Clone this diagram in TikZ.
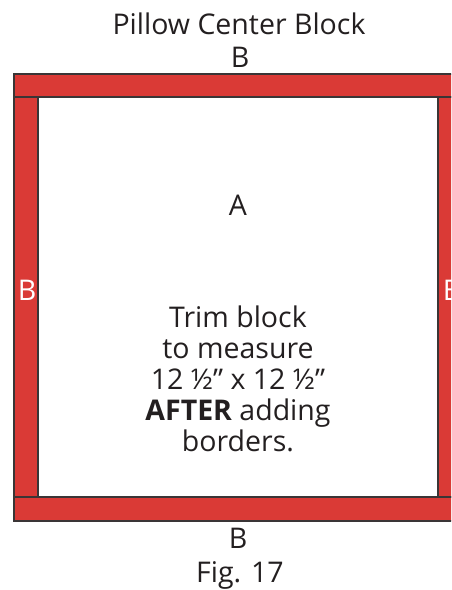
\documentclass[tikz,border=0pt]{standalone}
\usepackage{fontspec}
\setmainfont{Open Sans}
\usetikzlibrary{positioning}
\definecolor{ink}{HTML}{231F20}
\definecolor{edge}{HTML}{3A3536}
\definecolor{strip}{HTML}{DA3A36}
\tikzset{
  border/.style={fill=strip,draw=edge,line width=1.4pt},
  lbl/.style={font=\fontsize{28.5}{31}\selectfont,text=ink,inner sep=0pt},
  wlbl/.style={lbl,text=white}
}
\begin{document}
\begin{tikzpicture}[x=1pt,y=-1pt]
  \useasboundingbox (0,0) rectangle (451,590);
  \clip (0,0) rectangle (451,590);
  % borders around the centre block
  \draw[border] (14,74) rectangle (462,97);
  \draw[border] (14,497) rectangle (462,521);
  \draw[border] (14,97) rectangle (38,497);
  \draw[border] (438,97) rectangle (462,497);
  % labels
  \node[lbl] (title) at (239,24) {Pillow Center Block};
  \node[lbl] (btop) at (240,57) {B};
  \node[lbl] (a) at (238,205) {A};
  \node[wlbl] (bleft) at (27,290) {B};
  \node[wlbl] (bright) at (452,290) {B};
  \node[lbl,align=center] (note) at (238,379)
    {Trim block\\to measure\\12 ½” x 12 ½”\\\textbf{AFTER} adding\\borders.};
  \node[lbl] (bbot) at (238,538) {B};
  \node[lbl] (fig) at (240,575) {Fig. 17};
\end{tikzpicture}
\end{document}
